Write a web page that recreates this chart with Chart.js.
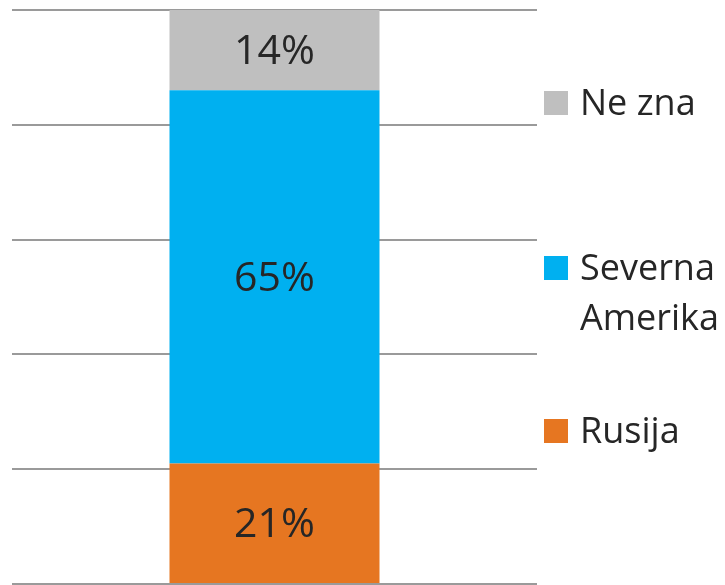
<!DOCTYPE html>
<html>
<head>
<meta charset="utf-8">
<script src="https://cdn.jsdelivr.net/npm/chart.js@4"></script>
<style>
    html, body { margin: 0; padding: 0; background: #fff; }
    #wrap { width: 725px; height: 585px; }
</style>
</head>
<body>
<div id="wrap"><canvas id="chart"></canvas></div>
<script>
'use strict';

// data (bottom to top of the stack)
let categories = [''];
let seriesNames = ['Rusija', ['Severna', 'Amerika'], 'Ne zna'];
let rusija = [21];
let severnaAmerika = [65];
let neZna = [14];
let seriesColors = ['#E67621', '#00B0F0', '#BFBFBF'];
let yTicks = [0, 20, 40, 60, 80, 100];

const canvasEl = document.getElementById('chart');
const fontName = '"Open Sans", "Liberation Sans", sans-serif';

// puts "21%" etc in the middle of every segment
const valueLabels = {
    id: 'valueLabels',
    afterDatasetsDraw(chart) {
        const ctx = chart.ctx;
        ctx.save();
        ctx.font = '41px ' + fontName;
        ctx.fillStyle = '#262626';
        ctx.textAlign = 'center';
        ctx.textBaseline = 'middle';
        chart.data.datasets.forEach((ds, i) => {
            chart.getDatasetMeta(i).data.forEach((bar, j) => {
                const mid = (bar.y + bar.base) / 2;
                ctx.fillText(ds.data[j] + '%', bar.x, mid + 2);
            });
        });
        ctx.restore();
    }
};

// legend on the right, each entry lined up by hand like the original
const sideLegend = {
    id: 'sideLegend',
    afterDraw(chart) {
        const ctx = chart.ctx;
        const area = chart.chartArea;
        ctx.save();
        ctx.font = '36px ' + fontName;
        ctx.textBaseline = 'alphabetic';
        // baselines of the first line of each entry (top entry first)
        const spots = [
            { ds: 2, y: 115 },
            { ds: 1, y: 280 },
            { ds: 0, y: 443 }
        ];
        spots.forEach(spot => {
            const ds = chart.data.datasets[spot.ds];
            const x = area.right + 7;
            ctx.fillStyle = ds.backgroundColor;
            ctx.fillRect(x, spot.y - 24, 24, 24);
            ctx.fillStyle = '#262626';
            let lines = Array.isArray(ds.label) ? ds.label : [ds.label];
            lines.forEach((line, k) => {
                ctx.fillText(line, x + 36, spot.y + k * 50);
            });
        });
        ctx.restore();
    }
};

new Chart(canvasEl, {
    type: 'bar',
    data: {
        labels: categories,
        datasets: [{
            label: seriesNames[0],
            data: rusija,
            backgroundColor: seriesColors[0]
        }, {
            label: seriesNames[1],
            data: severnaAmerika,
            backgroundColor: seriesColors[1]
        }, {
            label: seriesNames[2],
            data: neZna,
            backgroundColor: seriesColors[2]
        }]
    },
    options: {
        responsive: true,
        maintainAspectRatio: false,
        animation: false,
        layout: {
            padding: { left: 12, right: 188, top: 10, bottom: 1 }
        },
        datasets: {
            bar: {
                barPercentage: 1,
                categoryPercentage: 0.4
            }
        },
        scales: {
            x: {
                stacked: true,
                display: false
            },
            y: {
                stacked: true,
                min: yTicks[0],
                max: yTicks[yTicks.length - 1],
                afterBuildTicks: axis => {
                    axis.ticks = yTicks.map(v => ({ value: v }));
                },
                ticks: { display: false },
                border: { display: false },
                grid: {
                    color: '#9a9a9a',
                    lineWidth: 2,
                    drawTicks: false
                }
            }
        },
        plugins: {
            legend: { display: false },
            tooltip: { enabled: false }
        }
    },
    plugins: [valueLabels, sideLegend]
});
</script>
</body>
</html>
